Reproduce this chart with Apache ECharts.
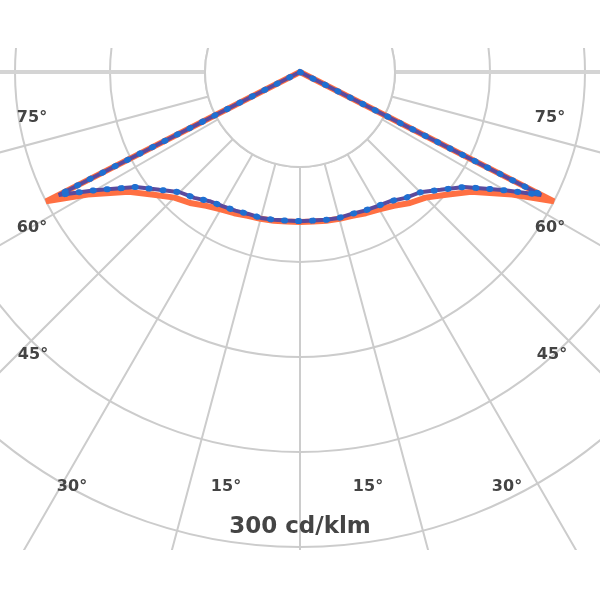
<!DOCTYPE html>
<html><head><meta charset="utf-8">
<script src="https://cdn.jsdelivr.net/npm/echarts@6/dist/echarts.min.js"></script>
<style>
html,body{margin:0;padding:0;background:#fff;width:600px;height:600px;overflow:hidden}
#chart{position:absolute;left:0;top:48px;width:600px;height:502px}
</style>
</head><body><div id="chart"></div>
<script>
// gamma angles (deg from nadir) and intensities (cd/klm), symmetric on both sides
const gammaAngles = [0, 5, 10, 15, 20, 25, 30, 35, 40, 45, 50, 55, 60, 63, 65, 90, 180];
const planeC0  = [158, 158, 159, 160, 161, 164, 167, 172, 180, 187, 201, 220, 258, 300, 0, 0, 0];
const planeC90 = [157, 157, 158, 159, 159, 161, 163, 166, 173, 179, 193, 211, 249, 285, 0, 0, 0];
const leftLabels  = ['75°', '60°', '45°', '30°', '15°'];
const rightLabels = ['75°', '60°', '45°', '30°', '15°'];
const unitLabel = '300 cd/klm';

function curve(vals) {
  const pts = [];
  for (let i = gammaAngles.length - 1; i >= 0; i--) pts.push([vals[i], 360 - gammaAngles[i]]);
  for (let i = 0; i < gammaAngles.length; i++) pts.push([vals[i], gammaAngles[i]]);
  return pts;
}

const cx = 300, cy = 24, ring = 95;
const leftPos  = [[32, 70], [32, 180], [33, 307], [72, 439], [226, 439]];
const rightPos = [[550, 70], [550, 180], [552, 307], [507, 439], [368, 439]];
const txtStyle = (t, p) => ({
  type: 'text', x: p[0], y: p[1], z: 5,
  style: { text: t, fill: '#444', font: 'bold 16px "DejaVu Sans"', textAlign: 'center', textVerticalAlign: 'middle', align: 'center', verticalAlign: 'middle' }
});
const graphics = [
  { type: 'line', z: 1, shape: { x1: 0, y1: cy, x2: cx - ring, y2: cy }, style: { stroke: '#d4d4d4', lineWidth: 4 } },
  { type: 'line', z: 1, shape: { x1: cx + ring, y1: cy, x2: 600, y2: cy }, style: { stroke: '#d4d4d4', lineWidth: 4 } },
  { type: 'circle', z: 1, shape: { cx: cx, cy: cy, r: ring }, style: { fill: '#ffffff', stroke: '#cccccc', lineWidth: 2 } }
];
leftLabels.forEach((t, i) => graphics.push(txtStyle(t, leftPos[i])));
rightLabels.forEach((t, i) => graphics.push(txtStyle(t, rightPos[i])));
graphics.push({
  type: 'text', x: 300, y: 479, z: 5,
  style: { text: unitLabel, fill: '#444', font: 'bold 23px "DejaVu Sans"', textAlign: 'center', textVerticalAlign: 'middle', align: 'center', verticalAlign: 'middle' }
});

const chart = echarts.init(document.getElementById('chart'));
chart.setOption({
  animation: false,
  backgroundColor: '#ffffff',
  polar: { center: [cx, cy], radius: 570 },
  angleAxis: {
    type: 'value', min: 0, max: 360, interval: 15, startAngle: -90, clockwise: true, z: 0,
    axisLine: { show: false }, axisTick: { show: false }, axisLabel: { show: false },
    splitLine: { show: true, lineStyle: { color: '#cccccc', width: 2 } }
  },
  radiusAxis: {
    type: 'value', min: 0, max: 600, interval: 100, z: 0,
    axisLine: { show: false }, axisTick: { show: false }, axisLabel: { show: false },
    splitLine: { show: true, lineStyle: { color: '#cccccc', width: 2 } }
  },
  graphic: graphics,
  series: [
    { type: 'line', coordinateSystem: 'polar', name: 'C0-C180', data: curve(planeC0), symbol: 'none', z: 3,
      lineStyle: { color: '#ff7043', width: 6 } },
    { type: 'line', coordinateSystem: 'polar', name: 'C90-C270', data: curve(planeC90), symbol: 'none', z: 4,
      lineStyle: { color: '#5a4a9e', width: 4 } },
    { type: 'line', coordinateSystem: 'polar', name: 'C90-C270 dots', data: curve(planeC90), symbol: 'none', z: 5,
      lineStyle: { color: '#1f6fd1', width: 6, type: [1, 13], cap: 'round' } }
  ]
});
</script>
</body></html>
